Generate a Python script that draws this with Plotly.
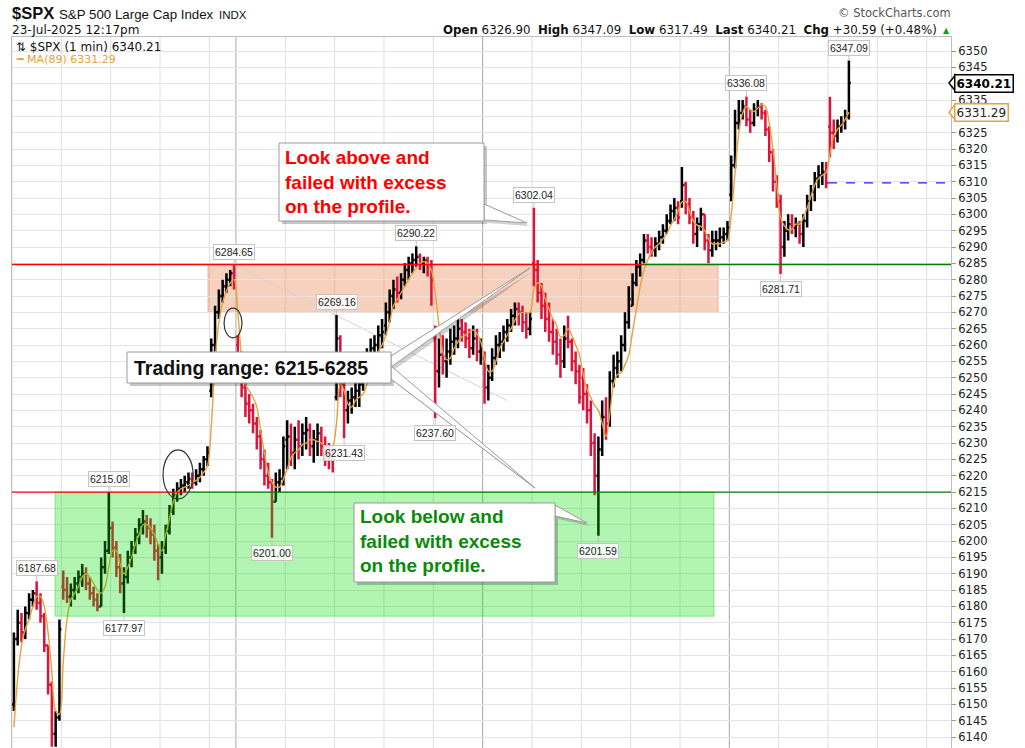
import plotly.graph_objects as go

# ---------------- data ----------------
DAYS = ["2025-06-27", "2025-06-30", "2025-07-01", "2025-07-02", "2025-07-03",
        "2025-07-07", "2025-07-08", "2025-07-09", "2025-07-10", "2025-07-11",
        "2025-07-14", "2025-07-15", "2025-07-16", "2025-07-17", "2025-07-18",
        "2025-07-21", "2025-07-22", "2025-07-23", "2025-07-24", "2025-07-25"]
SESSION_MINUTES = [390, 390, 390, 390, 210, 390, 390, 390, 390, 390,
                   390, 390, 390, 390, 390, 390, 390, 390, 390, 390]
BARS_PER_DAY = [13, 13, 13, 13, 7, 13, 13, 13, 13, 13, 13, 13, 13, 13, 13, 13, 13, 6]
WEEK_STARTS = ["2025-07-07", "2025-07-14", "2025-07-21"]
BAR_MINUTES = 30

DAY_OPEN = [6150, 6186, 6204, 6195, 6246, 6260, 6231, 6244, 6266, 6262,
            6256, 6285, 6250, 6272, 6304, 6306, 6304, 6326.90]

HIGH = [
    6172, 6179, 6178, 6180, 6184, 6185, 6187.68, 6184, 6178, 6168, 6157, 6148, 6176,
    6191, 6189, 6187, 6189, 6191, 6193, 6192, 6189, 6186, 6184, 6195, 6200, 6215.08,
    6206, 6200, 6196, 6192, 6197, 6200, 6204, 6207, 6209.5, 6208, 6207, 6205, 6199,
    6200, 6205, 6211, 6216, 6218, 6219, 6220, 6221, 6221, 6222, 6224, 6226, 6229,
    6262, 6272, 6277, 6280, 6282, 6283, 6284.65,
    6263, 6258, 6249, 6245, 6242, 6238, 6234, 6228, 6224, 6219, 6221, 6222, 6232,
    6237, 6236, 6235, 6237, 6236, 6238, 6236, 6234, 6236, 6235, 6232, 6230, 6228,
    6269.16, 6263, 6249, 6246, 6247, 6249, 6250, 6255, 6259, 6262, 6263, 6266, 6268,
    6273, 6277, 6280, 6281, 6282, 6285, 6287, 6288, 6290.22, 6288, 6287, 6287, 6286,
    6266, 6262, 6263, 6262, 6265, 6266, 6268, 6268, 6267, 6265, 6266, 6265, 6262,
    6258, 6254, 6259, 6263, 6264, 6266, 6268, 6271, 6273, 6273, 6272, 6270, 6270,
    6302.04, 6286, 6279, 6276, 6273, 6268, 6265, 6262, 6266, 6269, 6262, 6258, 6254,
    6253, 6248, 6243, 6233, 6232, 6243, 6244, 6252, 6257, 6258, 6263, 6270, 6278,
    6282, 6286, 6288, 6294, 6294, 6293, 6293, 6295, 6297, 6300, 6303, 6305, 6304,
    6314.5, 6310, 6305, 6301, 6299, 6302, 6300, 6294, 6295, 6295, 6296, 6296, 6298,
    6318, 6332, 6335, 6335, 6336.08, 6332, 6334, 6335, 6334, 6332, 6327, 6320, 6312,
    6306, 6298, 6300, 6300, 6299, 6298, 6300, 6306, 6309, 6313, 6315, 6316, 6316,
    6336, 6329, 6329, 6330, 6332, 6347.09,
]
LOW = [
    6148, 6168, 6169, 6170, 6176, 6180, 6179, 6175, 6166, 6153, 6137, 6137, 6145,
    6182, 6181, 6180, 6182, 6184, 6186, 6185, 6182, 6180, 6178.5, 6180, 6190, 6196,
    6195, 6189, 6184, 6177.97, 6187, 6192, 6196, 6199, 6202, 6201, 6199, 6194, 6188,
    6190, 6196, 6202, 6208, 6212, 6214, 6215, 6216, 6216, 6217, 6218, 6220, 6223,
    6244, 6258, 6268, 6273, 6276, 6278, 6277,
    6254, 6244, 6238, 6236, 6233, 6228, 6222, 6217, 6216, 6201.00, 6212, 6215, 6217,
    6222, 6223, 6222, 6225, 6226, 6228, 6226, 6224, 6226, 6226, 6223, 6222, 6221,
    6243, 6244, 6231.43, 6236, 6239, 6241, 6241, 6246, 6251, 6254, 6255, 6258, 6259,
    6263, 6267, 6271, 6273, 6274, 6278, 6280, 6282, 6284, 6283, 6282, 6281, 6272,
    6237.60, 6247, 6251, 6250, 6254, 6257, 6259, 6261, 6259, 6256, 6257, 6255, 6254,
    6242, 6243, 6249, 6254, 6256, 6258, 6261, 6264, 6266, 6266, 6264, 6262, 6263,
    6278, 6273, 6268, 6264, 6261, 6257, 6254, 6250, 6253, 6259, 6252, 6248, 6242,
    6240, 6236, 6226, 6214, 6201.59, 6226, 6231, 6235, 6247, 6250, 6252, 6258, 6265,
    6272, 6278, 6281, 6285, 6288, 6287, 6287, 6289, 6291, 6294, 6297, 6298, 6297,
    6302, 6300, 6297, 6291, 6290, 6295, 6289, 6285, 6287, 6289, 6290, 6291, 6292,
    6304, 6314, 6326, 6329, 6327, 6325, 6327, 6330, 6329, 6324, 6316, 6307, 6302,
    6281.71, 6287, 6292, 6294, 6293, 6291, 6290, 6296, 6301, 6304, 6308, 6309, 6308,
    6317.49, 6320, 6322, 6325, 6326, 6329,
]
CLOSE = [
    6170, 6175, 6172, 6178, 6182, 6184, 6181, 6177, 6168, 6156, 6141, 6146, 6173,
    6185, 6183, 6185, 6187, 6189, 6190, 6187, 6184, 6182, 6180, 6192, 6197, 6204,
    6198, 6192, 6187, 6189, 6195, 6198, 6202, 6205, 6206, 6204, 6202, 6197, 6195,
    6198, 6203, 6209, 6214, 6216, 6217, 6218, 6219, 6218, 6220, 6222, 6225, 6227,
    6260, 6270, 6275, 6278, 6280, 6282, 6279,
    6257, 6247, 6242, 6240, 6236, 6232, 6225, 6220, 6218, 6212, 6218, 6219, 6229,
    6232, 6227, 6231, 6229, 6233, 6234, 6229, 6231, 6233, 6229, 6226, 6225, 6225,
    6262, 6248, 6240, 6243, 6244, 6246, 6248, 6253, 6257, 6259, 6260, 6263, 6264,
    6270, 6275, 6277, 6276, 6280, 6283, 6285, 6286, 6287, 6285, 6286, 6284, 6280,
    6252, 6257, 6255, 6258, 6261, 6262, 6265, 6264, 6262, 6259, 6262, 6258, 6259,
    6247, 6250, 6256, 6260, 6261, 6264, 6266, 6269, 6271, 6270, 6267, 6265, 6268,
    6283, 6276, 6272, 6268, 6264, 6261, 6257, 6255, 6262, 6261, 6255, 6252, 6244,
    6245, 6240, 6230, 6220, 6228, 6238, 6236, 6249, 6253, 6255, 6260, 6267, 6274,
    6279, 6284, 6286, 6292, 6290, 6289, 6291, 6293, 6295, 6298, 6301, 6302, 6299,
    6309, 6303, 6299, 6294, 6297, 6300, 6292, 6289, 6292, 6292, 6293, 6294, 6296,
    6315, 6328, 6331, 6333, 6329, 6328, 6332, 6333, 6331, 6326, 6319, 6310, 6306,
    6290, 6295, 6297, 6296, 6297, 6294, 6298, 6304, 6307, 6311, 6312, 6313, 6309.62,
    6325, 6324, 6327, 6328, 6330, 6340.21,
]
MA89 = [
    6143, 6158, 6168, 6173, 6176, 6180, 6183, 6183, 6180, 6172, 6160, 6148, 6147,
    6163, 6176, 6182, 6184, 6186, 6189, 6190, 6189, 6187, 6185, 6184, 6186, 6192,
    6197, 6197, 6193, 6190, 6192, 6195, 6199, 6202, 6205, 6205, 6204, 6202, 6199,
    6197, 6202, 6207, 6212, 6215, 6216, 6216.5, 6217, 6218, 6218.5, 6219.5, 6221, 6223,
    6235, 6255, 6267, 6273, 6276.5, 6279, 6280,
    6270, 6256, 6248, 6246, 6244, 6241, 6234, 6227, 6221, 6218, 6216.5, 6216.5, 6219,
    6222, 6225.5, 6227, 6228, 6229.5, 6230, 6231, 6231, 6230.5, 6230, 6229, 6228, 6229,
    6236, 6248, 6246, 6242, 6241, 6243, 6244, 6245, 6248, 6252, 6255, 6258, 6260,
    6263, 6267, 6272, 6274, 6276, 6278, 6280, 6282, 6283.5, 6285, 6285.5, 6285, 6283,
    6276, 6266, 6258, 6255.5, 6256, 6259, 6261, 6262.5, 6263, 6264, 6264.6, 6263.5, 6261,
    6256, 6252, 6252, 6255, 6259, 6261, 6263, 6265, 6267.5, 6269.5, 6270, 6269.8, 6270,
    6277, 6279, 6278, 6274, 6271, 6268, 6266, 6262.5, 6263, 6265, 6263, 6260, 6257,
    6251, 6246.5, 6244, 6241.5, 6240, 6236, 6232, 6239, 6248, 6251, 6251.5, 6254, 6257,
    6264, 6271, 6277.8, 6283, 6286, 6288.5, 6290, 6291, 6292.5, 6294, 6296.5, 6298.5, 6301,
    6303.8, 6304, 6301, 6298, 6296.7, 6296.3, 6295, 6292.5, 6291, 6291, 6291, 6291.5, 6292,
    6300, 6312.6, 6325, 6331, 6333, 6332, 6331.5, 6332.5, 6333.5, 6333, 6328, 6320, 6309,
    6299, 6296.5, 6295.3, 6295.5, 6297, 6297, 6299, 6302, 6305.5, 6309, 6311, 6312, 6312.8,
    6318.5, 6324, 6326, 6327.3, 6329, 6331.29,
]

LABEL_POINTS = [
    ("2025-06-27", 6, "high"), ("2025-06-30", 12, "high"), ("2025-07-01", 3, "low"),
    ("2025-07-03", 6, "high"), ("2025-07-07", 9, "low"), ("2025-07-09", 0, "high"),
    ("2025-07-09", 2, "low"), ("2025-07-10", 8, "high"), ("2025-07-11", 0, "low"),
    ("2025-07-15", 0, "high"), ("2025-07-16", 4, "low"), ("2025-07-21", 4, "high"),
    ("2025-07-22", 0, "low"), ("2025-07-23", 5, "high"),
]

RANGE_LOW, RANGE_HIGH = 6215, 6284.65
BOX_HIGH_LOW = 6270
BOX_LOW_BOTTOM = 6177

assert len(HIGH) == len(LOW) == len(CLOSE) == len(MA89) == sum(BARS_PER_DAY)

# ---------------- time mapping ----------------
day_start = {}
acc = 0
for d, m in zip(DAYS, SESSION_MINUTES):
    day_start[d] = acc
    acc += m


def t(day, hhmm):
    h, m = map(int, hhmm.split(":"))
    return day_start[day] + h * 60 + m - (9 * 60 + 30)


bar_x, opens, first_idx = [], [], {}
i = 0
for di, n in enumerate(BARS_PER_DAY):
    d = DAYS[di]
    first_idx[d] = i
    for k in range(n):
        bar_x.append(day_start[d] + k * BAR_MINUTES + BAR_MINUTES / 2)
        opens.append(DAY_OPEN[di] if k == 0 else CLOSE[i - 1])
        i += 1

X_MIN = t("2025-06-27", "09:30")
X_MAX = t("2025-07-25", "12:42")
Y_MIN, Y_MAX = 6136.65, 6354.29

# pixel helpers for layout-only items
PL, PR, PT, PB = 12, 951, 37, 748


def pxx(x):
    return (x - PL) / (PR - PL)


def pyy(y):
    return (PB - y) / (PB - PT)


RED = "#dc143c"
ORANGE = "#e6a23c"
GREEN_T = "#0a8a0a"

fig = go.Figure()
fig.add_trace(go.Ohlc(
    x=bar_x, open=opens, high=HIGH, low=LOW, close=CLOSE,
    increasing=dict(line=dict(color="#000000", width=2.5)),
    decreasing=dict(line=dict(color=RED, width=2.5)),
    tickwidth=0.5, hoverinfo="skip", showlegend=False))
fig.add_trace(go.Scatter(
    x=bar_x, y=MA89, mode="lines", line=dict(color=ORANGE, width=1.4, shape="spline"),
    hoverinfo="skip", showlegend=False))

shapes = []
# vertical day grid
for d in DAYS:
    col = "#a8a8a8" if d in WEEK_STARTS else "#dedede"
    shapes.append(dict(type="line", xref="x", yref="paper", x0=day_start[d], x1=day_start[d],
                       y0=0, y1=1, line=dict(color=col, width=1), layer="below"))
# salmon box (upper part of range)
shapes.append(dict(type="rect", xref="x", yref="y",
                   x0=t("2025-07-02", "15:49"), x1=t("2025-07-18", "14:31"),
                   y0=BOX_HIGH_LOW, y1=RANGE_HIGH,
                   fillcolor="rgba(240,150,110,0.45)", line=dict(color="rgba(230,150,120,0.6)", width=1),
                   layer="below"))
# light grey trend line
shapes.append(dict(type="line", xref="x", yref="y",
                   x0=t("2025-07-03", "12:53"), y0=6284.5, x1=t("2025-07-14", "12:43"), y1=6243,
                   line=dict(color="#d4d4d4", width=1), layer="below"))
# green box (lower part of range), above the bars
shapes.append(dict(type="rect", xref="x", yref="y",
                   x0=t("2025-06-27", "15:10"), x1=t("2025-07-18", "13:59"),
                   y0=BOX_LOW_BOTTOM, y1=RANGE_LOW,
                   fillcolor="rgba(0,220,0,0.30)", line=dict(color="rgba(0,200,0,0.35)", width=1),
                   layer="above"))
# range lines
shapes.append(dict(type="line", xref="x", yref="y", x0=X_MIN, x1=t("2025-07-17", "11:08"),
                   y0=RANGE_HIGH, y1=RANGE_HIGH, line=dict(color="#ff0000", width=1.3), layer="above"))
shapes.append(dict(type="line", xref="x", yref="y", x0=t("2025-07-17", "11:08"), x1=X_MAX,
                   y0=RANGE_HIGH, y1=RANGE_HIGH, line=dict(color="#008000", width=1.3), layer="above"))
shapes.append(dict(type="line", xref="x", yref="y", x0=X_MIN, x1=t("2025-07-02", "13:03"),
                   y0=RANGE_LOW, y1=RANGE_LOW, line=dict(color="#ff0000", width=1.3), layer="above"))
shapes.append(dict(type="line", xref="x", yref="y", x0=t("2025-07-02", "13:03"), x1=X_MAX,
                   y0=RANGE_LOW, y1=RANGE_LOW, line=dict(color="#008000", width=1.3), layer="above"))
# previous close dashed line
prev_close = CLOSE[first_idx["2025-07-23"] - 1]
shapes.append(dict(type="line", xref="x", yref="y", x0=t("2025-07-23", "09:30"), x1=X_MAX,
                   y0=prev_close, y1=prev_close, line=dict(color="#2222ee", width=1.3, dash="dash"),
                   layer="above"))
# ellipses
shapes.append(dict(type="circle", xref="x", yref="y",
                   x0=t("2025-07-02", "09:54"), x1=t("2025-07-02", "13:51"), y0=6212.9, y1=6227.9,
                   line=dict(color="#333333", width=1.2), layer="above"))
shapes.append(dict(type="circle", xref="x", yref="y",
                   x0=t("2025-07-03", "11:26"), x1=t("2025-07-07", "10:18"), y0=6262.2, y1=6271.3,
                   line=dict(color="#333333", width=1.2), layer="above"))


def poly(points, dx=0, dy=0):
    s = "M " + " L ".join(f"{pxx(x + dx):.5f},{pyy(y + dy):.5f}" for x, y in points) + " Z"
    return s


CALLOUTS = [
    dict(box=(279, 143, 484, 221), tails=[[(484, 204), (527, 223), (484, 220)]]),
    dict(box=(127, 352, 391, 383), tails=[[(391, 356), (530, 268), (391, 367)],
                                          [(391, 366), (535, 488), (391, 379)]]),
    dict(box=(354, 503, 555, 582), tails=[[(555, 505), (587, 523), (555, 516)]]),
]
for c in CALLOUTS:
    x0, y0, x1, y1 = c["box"]
    for tl in c["tails"]:
        shapes.append(dict(type="path", xref="paper", yref="paper", path=poly(tl, 3, 3),
                           fillcolor="rgba(0,0,0,0.18)", line=dict(width=0), layer="above"))
    shapes.append(dict(type="rect", xref="paper", yref="paper", x0=pxx(x0 + 3), x1=pxx(x1 + 3),
                       y0=pyy(y1 + 3), y1=pyy(y0 + 3), fillcolor="rgba(0,0,0,0.22)",
                       line=dict(width=0), layer="above"))
    for tl in c["tails"]:
        shapes.append(dict(type="path", xref="paper", yref="paper", path=poly(tl),
                           fillcolor="white", line=dict(color="#9a9a9a", width=1), layer="above"))
    shapes.append(dict(type="rect", xref="paper", yref="paper", x0=pxx(x0), x1=pxx(x1),
                       y0=pyy(y1), y1=pyy(y0), fillcolor="white",
                       line=dict(color="#9a9a9a", width=1), layer="above"))

last = CLOSE[-1]
# pointed left ends of the right-hand price tags
for val, col in ((last, "#000000"), (MA89[-1], ORANGE)):
    shapes.append(dict(type="path", xref="paper", yref="y",
                       path=(f"M {pxx(955):.5f},{val + 2.3} L {pxx(949):.5f},{val} "
                             f"L {pxx(955):.5f},{val - 2.3} Z"),
                       fillcolor="white", line=dict(color=col, width=1.5), layer="above"))

annotations = []
# callout texts
annotations.append(dict(xref="paper", yref="paper", x=pxx(283), y=pyy(182), xanchor="left",
                        yanchor="middle", align="left", showarrow=False,
                        text="<b>Look above and<br>failed with excess<br>on the profile.</b>",
                        font=dict(family="Liberation Sans, Arial", size=19, color="#ff0000")))
annotations.append(dict(xref="paper", yref="paper", x=pxx(132), y=pyy(368), xanchor="left",
                        yanchor="middle", align="left", showarrow=False,
                        text=f"<b>Trading range: {RANGE_LOW}-{round(RANGE_HIGH)}</b>",
                        font=dict(family="Liberation Sans, Arial", size=19.5, color="#111111")))
annotations.append(dict(xref="paper", yref="paper", x=pxx(358), y=pyy(541), xanchor="left",
                        yanchor="middle", align="left", showarrow=False,
                        text="<b>Look below and<br>failed with excess<br>on the profile.</b>",
                        font=dict(family="Liberation Sans, Arial", size=19, color=GREEN_T)))

# extreme value labels
for d, k, kind in LABEL_POINTS:
    idx = first_idx[d] + k
    val = HIGH[idx] if kind == "high" else LOW[idx]
    annotations.append(dict(x=bar_x[idx], y=val, xref="x", yref="y", text=f"{val:.2f}",
                            showarrow=True, arrowhead=0, arrowcolor="#c4c4c4", arrowwidth=1,
                            ax=0, ay=-13 if kind == "high" else 15, standoff=0,
                            bgcolor="rgba(255,255,255,0.85)", bordercolor="#c4c4c4",
                            borderwidth=1, borderpad=1,
                            font=dict(family="Liberation Sans, Arial", size=10.5, color="#222222")))

# header
last_day_idx = first_idx["2025-07-23"]
day_high = max(HIGH[last_day_idx:])
day_low = min(LOW[last_day_idx:])
chg = last - prev_close
pct = chg / prev_close * 100
nb = "\u00a0"
annotations += [
    dict(xref="paper", yref="paper", x=pxx(10), y=pyy(13), xanchor="left", yanchor="middle",
         showarrow=False, text="<b>$SPX</b>",
         font=dict(family="Liberation Sans, Arial", size=16.5, color="#111")),
    dict(xref="paper", yref="paper", x=pxx(57), y=pyy(14), xanchor="left", yanchor="middle",
         showarrow=False, text="S&P 500 Large Cap Index",
         font=dict(family="Liberation Sans, Arial", size=13.3, color="#111")),
    dict(xref="paper", yref="paper", x=pxx(217), y=pyy(15), xanchor="left", yanchor="middle",
         showarrow=False, text="INDX",
         font=dict(family="Liberation Sans, Arial", size=11.5, color="#111")),
    dict(xref="paper", yref="paper", x=pxx(10), y=pyy(30), xanchor="left", yanchor="middle",
         showarrow=False, text="23-Jul-2025 12:17pm",
         font=dict(family="DejaVu Sans", size=12, color="#111")),
    dict(xref="paper", yref="paper", x=pxx(939), y=pyy(30), xanchor="right", yanchor="middle",
         showarrow=False,
         text=(f"<b>Open</b> {DAY_OPEN[-1]:.2f}{nb}{nb}<b>High</b> {day_high:.2f}{nb}{nb}"
               f"<b>Low</b> {day_low:.2f}{nb}{nb}<b>Last</b> {last:.2f}{nb}{nb}"
               f"<b>Chg</b> {chg:+.2f} ({pct:+.2f}%)"),
         font=dict(family="DejaVu Sans", size=11.8, color="#111")),
    dict(xref="paper", yref="paper", x=pxx(941), y=pyy(30), xanchor="left", yanchor="middle",
         showarrow=False, text="▲", font=dict(family="DejaVu Sans", size=8, color="#1a9a1a")),
    dict(xref="paper", yref="paper", x=pxx(953), y=pyy(13), xanchor="right", yanchor="middle",
         showarrow=False, text="© StockCharts.com",
         font=dict(family="DejaVu Sans", size=11.5, color="#555")),
    # in-chart legend
    dict(xref="paper", yref="paper", x=pxx(14), y=pyy(47), xanchor="left", yanchor="middle",
         showarrow=False, text=f"⇅ $SPX (1 min) {last:.2f}",
         font=dict(family="DejaVu Sans", size=12, color="#111")),
    dict(xref="paper", yref="paper", x=pxx(14), y=pyy(60), xanchor="left", yanchor="middle",
         showarrow=False, text=f"━ MA(89) {MA89[-1]:.2f}",
         font=dict(family="DejaVu Sans", size=11, color=ORANGE)),
    # right price tags
    dict(xref="paper", yref="y", x=pxx(954), y=last, xanchor="left", yanchor="middle",
         showarrow=False, text=f"<b>{last:.2f}</b>", bgcolor="white", bordercolor="#000",
         borderwidth=1.5, borderpad=1, font=dict(family="DejaVu Sans", size=12, color="#000")),
    dict(xref="paper", yref="y", x=pxx(954), y=MA89[-1], xanchor="left", yanchor="middle",
         showarrow=False, text=f"{MA89[-1]:.2f}", bgcolor="white", bordercolor=ORANGE,
         borderwidth=1.5, borderpad=1, font=dict(family="DejaVu Sans", size=12, color="#222")),
]

# y tick labels; those hidden behind the price tags are left blank
TICKS = list(range(6140, 6355, 5))
tick_text = ["" if min(abs(v - last), abs(v - MA89[-1])) < 3.5 else str(v) for v in TICKS]

fig.update_layout(
    width=1025, height=748,
    margin=dict(l=PL, r=1025 - PR, t=PT, b=0),
    paper_bgcolor="white", plot_bgcolor="white",
    shapes=shapes, annotations=annotations, showlegend=False,
    xaxis=dict(range=[X_MIN, X_MAX], showgrid=False, showticklabels=False, zeroline=False,
               rangeslider=dict(visible=False), showline=True, mirror=True,
               linecolor="#bdbdbd", linewidth=1, fixedrange=True),
    yaxis=dict(range=[Y_MIN, Y_MAX], side="right", tickmode="array", tickvals=TICKS,
               ticktext=tick_text,
               showgrid=True, gridcolor="#e4e4e4", gridwidth=1, zeroline=False,
               ticks="outside", ticklen=4, tickcolor="#999",
               tickfont=dict(family="DejaVu Sans", size=11.5, color="#222"),
               showline=True, mirror=True, linecolor="#bdbdbd", linewidth=1, fixedrange=True),
)

fig.write_html("out.html", config={"displayModeBar": False},
               post_script="document.body.style.margin='0';document.body.style.overflow='hidden';")
